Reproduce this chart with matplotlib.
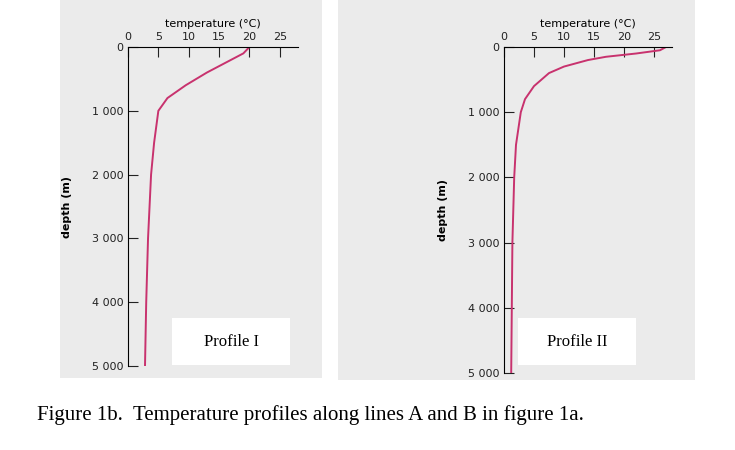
import matplotlib
matplotlib.use("Agg")
import matplotlib.pyplot as plt
from matplotlib.patches import Rectangle

depth1 = [0, 100, 200, 400, 600, 800, 1000, 1500, 2000, 3000, 4000, 5000]
temp1 = [20, 19, 17, 13, 9.5, 6.5, 5, 4.3, 3.8, 3.3, 3.0, 2.8]
depth2 = [0, 50, 100, 150, 200, 300, 400, 600, 800, 1000, 1500, 2000, 3000, 4000, 5000]
temp2 = [27, 26, 22, 17, 14, 10, 7.5, 5, 3.5, 2.8, 2.0, 1.7, 1.4, 1.3, 1.2]
xticks = [0, 5, 10, 15, 20, 25]
yticks = [0, 1000, 2000, 3000, 4000, 5000]
ylabels = ["0", "1 000", "2 000", "3 000", "4 000", "5 000"]

fig = plt.figure(figsize=(7.35, 4.5), dpi=100)
W, H = 735, 450
def fr(x0, y0, x1, y1):
    return [x0 / W, 1 - y1 / H, (x1 - x0) / W, (y1 - y0) / H]

for (x0, y0, x1, y1) in [(60, 0, 322, 378), (338, 0, 695, 380)]:
    b = fr(x0, y0, x1, y1)
    fig.patches.append(Rectangle((b[0], b[1]), b[2], b[3], transform=fig.transFigure,
                                 facecolor="#ebebeb", edgecolor="none", zorder=-2))

panels = [(fr(128, 47, 298, 366), temp1, depth1, "Profile I", (172, 318, 290, 365)),
          (fr(504, 47, 672, 373), temp2, depth2, "Profile II", (518, 318, 636, 365))]
for rect, t, d, name, box in panels:
    bb = fr(*box)
    fig.patches.append(Rectangle((bb[0], bb[1]), bb[2], bb[3], transform=fig.transFigure,
                                 facecolor="white", edgecolor="none", zorder=-1))
    fig.text(bb[0] + bb[2] / 2, bb[1] + bb[3] / 2, name, ha="center", va="center",
             fontsize=12, family="Liberation Serif", zorder=3)
    ax = fig.add_axes(rect)
    ax.set_zorder(2)
    ax.patch.set_alpha(0)
    ax.plot(t, d, color="#c8326e", lw=1.4)
    ax.set_xlim(0, 28)
    ax.set_ylim(5000, 0)
    ax.xaxis.tick_top()
    ax.xaxis.set_label_position("top")
    ax.set_xticks(xticks)
    ax.set_yticks(yticks)
    ax.set_yticklabels(ylabels)
    ax.tick_params(direction="in", length=7, labelsize=8, color="#222", labelcolor="#222")
    for s in ["right", "bottom"]:
        ax.spines[s].set_visible(False)
    ax.set_xlabel("temperature (°C)", fontsize=8, labelpad=4)
    ax.set_ylabel("depth (m)", fontsize=8, fontweight="bold", labelpad=14)

fig.text(37 / W, 1 - 415 / H, "Figure 1b.  Temperature profiles along lines A and B in figure 1a.",
         fontsize=15, family="Liberation Serif", va="center")
fig.savefig("out.png", dpi=100, facecolor="white")
